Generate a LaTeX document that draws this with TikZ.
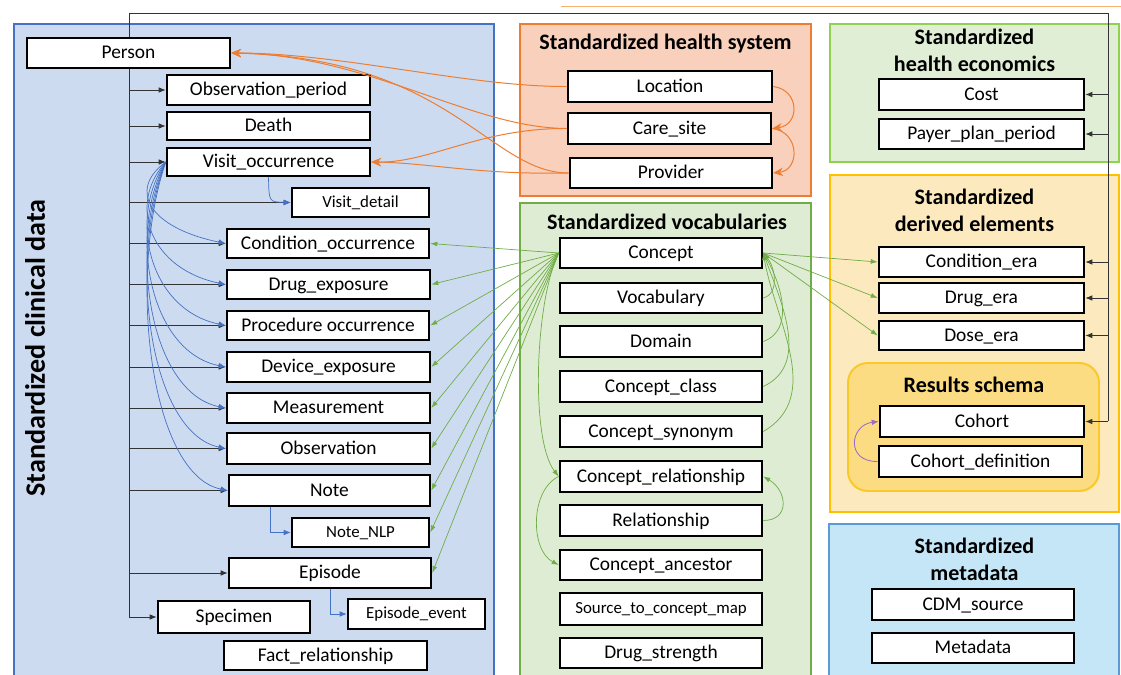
\documentclass[tikz,border=0pt]{standalone}
\usepackage{fontspec}
\setmainfont{Carlito}
\usetikzlibrary{arrows.meta,calc}
\definecolor{myblue}{RGB}{68,114,196}
\definecolor{myorange}{RGB}{237,125,49}
\definecolor{mygreen}{RGB}{112,173,71}
\definecolor{mypurple}{RGB}{112,48,160}
\definecolor{clinfill}{RGB}{205,219,240}
\definecolor{hsfill}{RGB}{248,208,188}
\definecolor{vocfill}{RGB}{222,236,212}
\definecolor{econfill}{RGB}{224,238,214}
\definecolor{econborder}{RGB}{146,208,80}
\definecolor{derfill}{RGB}{252,234,190}
\definecolor{derborder}{RGB}{255,192,0}
\definecolor{resfill}{RGB}{252,220,130}
\definecolor{resborder}{RGB}{250,200,40}
\definecolor{metafill}{RGB}{197,230,247}
\definecolor{metaborder}{RGB}{91,155,213}
\definecolor{toporange}{RGB}{246,178,107}
\tikzset{
  tbox/.style={draw=black, line width=1.8pt, fill=white, inner sep=0pt,
    text height=8.4pt, text depth=0.4pt, font=\fontsize{13.8}{16}\selectfont},
  sm/.style={font=\fontsize{12}{14}\selectfont, text height=7.4pt, text depth=0.4pt},
  ttl/.style={font=\fontsize{15.7}{19}\selectfont\bfseries, align=center},
  region/.style={line width=1.4pt},
  trunk/.style={draw=black!80, line width=0.6pt},
  blk/.style={draw=black!80, line width=0.6pt, -{Latex[length=5pt,width=4pt]}},
  bl/.style={draw=myblue, line width=0.5pt, -{Latex[length=5pt,width=4pt]}},
  org/.style={draw=myorange, line width=0.7pt, -{Stealth[length=7pt,width=6pt]}},
  grn/.style={draw=mygreen, line width=0.5pt, -{Latex[length=5pt,width=3.5pt]}},
  purp/.style={draw=mypurple!70, line width=0.6pt, -{Latex[length=5pt,width=4pt]}},
}
\newcommand{\bx}[7][]{\node[tbox,#1,minimum width={(#5-#3)*0.025cm},minimum height={(#6-#4)*0.025cm}] (#2) at ({(#3+#5)/2},{(#4+#6)/2}) {#7};}
\begin{document}
\begin{tikzpicture}[x=0.025cm,y=-0.025cm]
\useasboundingbox (0,0) rectangle (1121,675);
\clip (0,0) rectangle (1121,675);
% regions
\draw[region, draw=myblue, fill=clinfill] (14,24) rectangle (494,690);
\draw[region, draw=myorange, fill=hsfill] (520,24) rectangle (811,196);
\draw[region, draw=mygreen, fill=vocfill] (520,203) rectangle (811,690);
\draw[region, draw=econborder, fill=econfill] (830,24) rectangle (1119,162);
\draw[region, draw=derborder, fill=derfill] (830,175) rectangle (1119,512);
\draw[region, draw=resborder, fill=resfill, rounded corners=14pt] (848,363) rectangle (1099,491);
\draw[region, draw=metaborder, fill=metafill] (829,524) rectangle (1119,690);
\draw[toporange, line width=0.7pt] (561,6) -- (1121,6);
% titles
\node[ttl] (hst) at (665.5,43) {Standardized health system};
\node[ttl] (vt) at (667,222) {Standardized vocabularies};
\node[ttl] (et) at (974.5,50.5) {Standardized\\health economics};
\node[ttl] (dt) at (974.5,210.5) {Standardized\\derived elements};
\node[ttl] (rt) at (974,385) {Results schema};
\node[ttl] (mt) at (974.5,559.5) {Standardized\\metadata};
\node[ttl, rotate=90, font=\fontsize{20}{23}\selectfont\bfseries] (ct) at (35,348) {Standardized clinical data};
% clinical boxes
\bx{person}{27}{38}{230}{68}{Person}
\bx{obs}{167}{75}{370}{105}{Observation\_period}
\bx{death}{167}{112}{370}{140}{Death}
\bx{vo}{167}{148}{370}{176}{Visit\_occurrence}
\bx[sm]{vd}{292}{188}{429}{217}{Visit\_detail}
\bx{co}{227}{229}{429}{258}{Condition\_occurrence}
\bx{de}{227}{270}{430}{299}{Drug\_exposure}
\bx{po}{227}{311}{429}{340}{Procedure occurrence}
\bx{dx}{227}{352}{430}{382}{Device\_exposure}
\bx{meas}{227}{393}{430}{423}{Measurement}
\bx{obsv}{227}{433}{430}{464}{Observation}
\bx{note}{229}{475}{430}{506}{Note}
\bx[sm]{nlp}{292}{518}{429}{547}{Note\_NLP}
\bx{ep}{229}{558}{431}{588}{Episode}
\bx{spec}{158}{601}{310}{633}{Specimen}
\bx[sm]{epev}{348}{599}{485}{629}{Episode\_event}
\bx{fact}{224}{641}{427}{670}{Fact\_relationship}
% health system
\bx{loc}{568}{71}{772}{102}{Location}
\bx{care}{568}{113}{771}{144}{Care\_site}
\bx{prov}{570}{158}{772}{188}{Provider}
% vocabularies
\bx{concept}{560}{238}{762}{268}{Concept}
\bx{vocab}{560}{283}{762}{313}{Vocabulary}
\bx{domain}{560}{326}{762}{357}{Domain}
\bx{cclass}{560}{371}{762}{402}{Concept\_class}
\bx{csyn}{560}{416}{762}{447}{Concept\_synonym}
\bx{crel}{560}{461}{762}{492}{Concept\_relationship}
\bx{rel}{560}{505}{762}{536}{Relationship}
\bx{canc}{560}{550}{762}{580}{Concept\_ancestor}
\bx[sm]{stcm}{560}{593}{762}{625}{Source\_to\_concept\_map}
\bx{dstr}{560}{638}{762}{668}{Drug\_strength}
% economics, derived, results, metadata
\bx{cost}{879}{79}{1084}{110}{Cost}
\bx{ppp}{879}{119}{1084}{149}{Payer\_plan\_period}
\bx{cera}{879}{247}{1084}{277}{Condition\_era}
\bx{dera}{879}{283}{1084}{313}{Drug\_era}
\bx{dose}{879}{321}{1084}{350}{Dose\_era}
\bx{cohort}{880}{406}{1084}{437}{Cohort}
\bx{cdef}{879}{446}{1082}{477}{Cohort\_definition}
\bx{cdm}{872}{589}{1074}{620}{CDM\_source}
\bx{meta}{872}{633}{1074}{663}{Metadata}
% person trunk
\coordinate (tl) at (129,13);
\coordinate (tr) at (1108,13);
\draw[trunk] (tl) -- (tr);
\draw[trunk] (tl) -- (person.north -| tl);
\draw[trunk] (person.south -| tl) -- (spec.west -| tl);
\draw[trunk] (tr) -- (cohort.east -| tr);
\foreach \n in {obs,death,vo,vd,co,de,po,dx,meas,obsv,note,ep,spec}
  \draw[blk] (\n.west -| tl) -- (\n.west);
\foreach \n in {cost,ppp,cera,dera,dose,cohort}
  \draw[blk] (\n.east -| tr) -- (\n.east);
% visit occurrence links
\foreach \n/\ty in {co/243,de/284,po/325,dx/367,meas/408,obsv/448,note/490}
  \draw[bl] (vo.west) .. controls (127,{162+(\ty-162)*0.35}) and (150,\ty-15) .. (\n.west);
\draw[bl] (vo.south) .. controls (269,202) .. (vd.west);
\draw[bl] ($(note.south west)+(43,0)$) |- (nlp.west);
\draw[bl] (ep.south) |- (epev.west);
% health system links
\draw[org] (loc.west) .. controls (470,87) and (340,53) .. (person.east);
\draw[org] (care.west) .. controls (470,128) and (370,55) .. (person.east);
\draw[org] (prov.west) .. controls (490,173) and (450,58) .. (person.east);
\draw[org] (care.west) .. controls (480,128) and (430,163) .. (vo.east);
\draw[org] (prov.west) .. controls (480,175) and (430,163) .. (vo.east);
\draw[org] (loc.east) .. controls (800,90) and (800,125) .. (care.east);
\draw[org] (care.east) .. controls (800,132) and (800,170) .. (prov.east);
% concept links
\foreach \n in {co,de,po,dx,meas,obsv,note,nlp,ep}
  \draw[grn] (concept.west) -- (\n.east);
\foreach \n in {cera,dera,dose}
  \draw[grn] (concept.east) -- (\n.west);
\draw[grn] (vocab.east) to[out=15,in=-50] (concept.east);
\draw[grn] (domain.east) to[out=20,in=-60] (concept.east);
\draw[grn] (cclass.east) to[out=25,in=-70] (concept.east);
\draw[grn] (csyn.east) to[out=30,in=-80] (concept.east);
\draw[grn] (rel.east) to[out=0,in=-30,looseness=1.6] (crel.east);
\draw[grn] (concept.west) .. controls (535,300) and (530,440) .. (crel.west);
\draw[grn] (crel.west) .. controls (530,490) and (530,550) .. (canc.west);
% cohort
\draw[purp] (cdef.west) .. controls (845,462) and (850,425) .. (cohort.west);
\end{tikzpicture}
\end{document}
